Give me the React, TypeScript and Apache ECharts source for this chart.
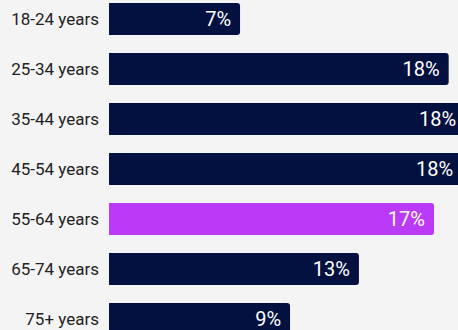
import React, { useEffect, useRef } from "react";
import * as echarts from "echarts";

const categories = ["18-24 years", "25-34 years", "35-44 years", "45-54 years", "55-64 years", "65-74 years", "75+ years"];
const values = [6.79, 17.6, 18.45, 18.3, 16.84, 12.95, 9.38];
const highlightIndex = 4;

const NAVY = "#021140";
const PURPLE = "#bb3af7";
const BG = "#f4f4f4";

export default function App() {
  const ref = useRef<HTMLDivElement>(null);
  useEffect(() => {
    document.body.style.margin = "0";
    document.body.style.overflow = "hidden";
    document.body.style.background = BG;
    const chart = echarts.init(ref.current!, undefined, { renderer: "svg" });
    chart.setOption({
      animation: false,
      backgroundColor: BG,
      grid: { left: 109, top: 0, width: 386, height: 350 },
      xAxis: { type: "value", min: 0, max: 20, show: false },
      yAxis: {
        type: "category",
        data: categories,
        inverse: true,
        axisLine: { show: false },
        axisTick: { show: false },
        axisLabel: { color: "#222222", fontSize: 17, fontFamily: "Roboto", margin: 10 },
      },
      series: [
        {
          type: "bar",
          barWidth: 32,
          data: values.map((v, i) => ({
            value: v,
            itemStyle: { color: i === highlightIndex ? PURPLE : NAVY, borderRadius: [0, 3, 3, 0] },
          })),
          label: {
            show: true,
            position: "insideRight",
            distance: 9,
            color: "#ffffff",
            fontSize: 20,
            fontFamily: "Roboto",
            formatter: (p: any) => Math.round(p.value) + "%",
          },
        },
      ],
    });
    return () => chart.dispose();
  }, []);
  return (
    <div style={{ position: "absolute", left: 0, top: -6, width: 520, height: 360, overflow: "hidden" }}>
      <div ref={ref} style={{ width: 520, height: 350 }} />
    </div>
  );
}
